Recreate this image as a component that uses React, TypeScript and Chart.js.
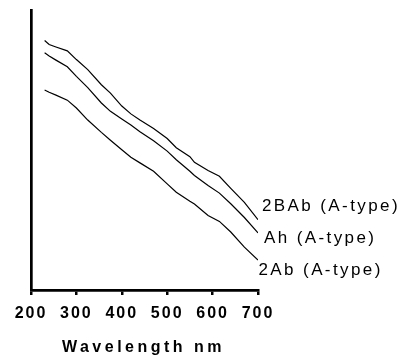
import React, { useEffect, useRef } from "react";
import { Chart, registerables } from "chart.js";

Chart.register(...registerables);

const wavelengths = [230, 240, 255, 280, 300, 325, 355, 375, 400, 420, 440, 470, 500, 520, 550, 560, 590, 615, 640, 670, 700];
const series2BAb = [89.1, 87.7, 86.8, 85.4, 82.3, 78.7, 73.3, 70.3, 65.7, 62.9, 60.7, 57.7, 54.1, 50.8, 47.6, 45.6, 42.7, 40.6, 36.3, 31.3, 25.1];
const seriesAh = [84.7, 83.6, 82.1, 79.7, 76.3, 72.3, 66.8, 63.8, 61.1, 58.9, 56.5, 53.3, 49.6, 46.5, 42.4, 40.9, 37.3, 34.6, 30.8, 25.9, 20.4];
const series2Ab = [71.4, 70.6, 69.6, 67.8, 65.0, 60.7, 56.3, 53.5, 50.1, 47.4, 45.4, 42.4, 37.9, 34.9, 31.7, 30.7, 26.6, 24.5, 20.7, 15.3, 10.7];
const seriesNames = ["2BAb (A-type)", "Ah (A-type)", "2Ab (A-type)"];
const xTicks = [200, 300, 400, 500, 600, 700];
const xTitle = "Wavelength nm";

const FONT = "Arial, 'Liberation Sans', sans-serif";

const labelPlugin = {
  id: "endLabels",
  beforeDraw(chart: any) {
    chart.ctx.letterSpacing = "2px";
  },
  afterDraw(chart: any) {
    const ctx = chart.ctx;
    const xs = chart.scales.x;
    const offsets = [
      [4, -13.5],
      [6, 5.5],
      [0.5, 9.8],
    ];
    ctx.save();
    ctx.fillStyle = "#000";
    ctx.font = `17px ${FONT}`;
    ctx.letterSpacing = "2.4px";
    ctx.textBaseline = "middle";
    ctx.textAlign = "left";
    chart.data.datasets.forEach((ds: any, i: number) => {
      const meta = chart.getDatasetMeta(i);
      const last = meta.data[meta.data.length - 1];
      ctx.fillText(ds.label, last.x + offsets[i][0], last.y + offsets[i][1]);
    });
    ctx.font = `bold 16px ${FONT}`;
    ctx.letterSpacing = "3.5px";
    ctx.textAlign = "center";
    ctx.fillText(xTitle, (xs.left + xs.right) / 2 - 1, 348);
    ctx.restore();
  },
};

export default function App() {
  const ref = useRef<HTMLCanvasElement>(null);
  useEffect(() => {
    if (!ref.current) return;
    const mk = (vals: number[]) => wavelengths.map((w, i) => ({ x: w, y: vals[i] }));
    const all = [series2BAb, seriesAh, series2Ab];
    const chart = new Chart(ref.current, {
      type: "line",
      data: {
        datasets: all.map((vals, i) => ({
          label: seriesNames[i],
          data: mk(vals),
          borderColor: "#000",
          borderWidth: 1.2,
          pointRadius: 0,
          tension: 0,
          fill: false,
        })),
      },
      options: {
        animation: false,
        responsive: true,
        maintainAspectRatio: false,
        layout: { padding: { left: 29, right: 145, top: 10, bottom: 40 } },
        plugins: { legend: { display: false }, tooltip: { enabled: false } },
        scales: {
          x: {
            type: "linear",
            min: 200,
            max: 700,
            afterBuildTicks: (s: any) => {
              s.ticks = xTicks.map((v) => ({ value: v }));
            },
            afterFit: (s: any) => {
              s.height = 30;
            },
            ticks: {
              color: "#000",
              font: { family: FONT, size: 16, weight: "bold" },
              padding: 9,
              maxRotation: 0,
              autoSkip: false,
            },
            grid: {
              display: true,
              drawOnChartArea: false,
              drawTicks: true,
              tickLength: 5,
              color: "#000",
              lineWidth: 2.5,
            },
            border: { display: true, color: "#000", width: 2.7 },
          },
          y: {
            min: 0,
            max: 100,
            afterFit: (s: any) => {
              s.width = 2;
            },
            ticks: { display: false },
            grid: { display: false, drawTicks: false },
            border: { display: true, color: "#000", width: 2.7 },
          },
        },
      },
      plugins: [labelPlugin],
    });
    return () => chart.destroy();
  }, []);
  return (
    <div style={{ position: "absolute", left: 0, top: 0, width: 403, height: 360 }}>
      <canvas ref={ref} />
    </div>
  );
}
